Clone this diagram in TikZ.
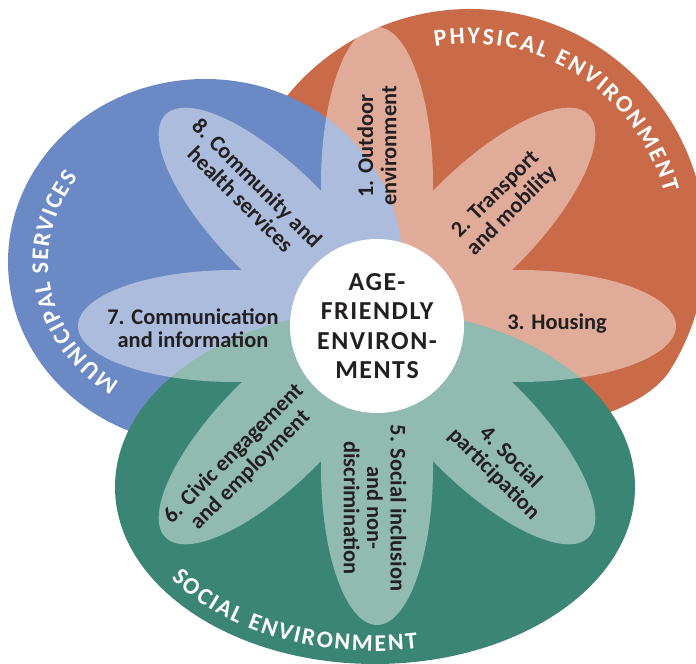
\documentclass[tikz,border=0pt]{standalone}
\usepackage{fontspec}
\setmainfont{Carlito}
\newfontfamily\hubfont[LetterSpace=6]{Carlito}
\usetikzlibrary{decorations.text}
\definecolor{physical}{RGB}{201,106,72}
\definecolor{municipal}{RGB}{107,137,196}
\definecolor{social}{RGB}{59,133,117}
\definecolor{ink}{RGB}{35,31,32}
\newcommand{\ringfont}{\bfseries\fontsize{24}{24}\selectfont}
\tikzset{
    % petals are a thin white veil laid over the three areas
    petal/.style={fill=white, fill opacity=0.44},
    % white disc in the middle
    hub/.style={
           circle,
           fill=white,
           minimum size=174bp,
           inner sep=0pt,
           text=ink,
           align=center,
           font=\hubfont\bfseries\fontsize{26}{29.5}\selectfont},
    petaltext/.style={
           text=ink,
           align=center,
           inner sep=0pt,
           font=\bfseries\fontsize{22.5}{23.5}\selectfont},
    % white titles running round the edge of each area
    ring/.style={
           decorate,
           decoration={text along path, text align=fit to path, text color=white}},
}
\begin{document}
\begin{tikzpicture}[x=1bp, y=1bp]
\useasboundingbox (0,0) rectangle (696,664);
% the three areas
\fill[physical] (670.14,293.94) arc[start angle=-32, end angle=180, radius=236]
    -- (300,264) -- (450,224) .. controls (580,230) and (649,260) .. (670.14,293.94) -- cycle;
\fill[municipal] (205,402) ellipse[x radius=197, y radius=183];
\fill[social] (375,177) ellipse[x radius=260, y radius=177];
% eight petals
\fill[petal] \foreach \a in {0,45,...,315} {{[shift={(377,338)}, rotate=\a] (142,0) ellipse[x radius=157, y radius=56]}};
\node[hub] (hub) at (377,338) {AGE-\\FRIENDLY\\ENVIRON-\\MENTS};
\node[petaltext, rotate=90]  (outdoor)       at (377,518) {1. Outdoor\\environment};
\node[petaltext, rotate=45]  (transport)     at (504,461) {2. Transport\\and mobility};
\node[petaltext]             (housing)       at (557,340) {3. Housing};
\node[petaltext, rotate=-45] (participation) at (502,198) {4. Social\\participation};
\node[petaltext, rotate=-90] (inclusion)     at (375,156) {5. Social inclusion\\and non-\\discrimination};
\node[petaltext, rotate=45]  (civic)         at (242,202) {6. Civic engagement\\and employment};
\node[petaltext]             (communication) at (193,336) {7. Communication\\and information};
\node[petaltext, rotate=-45] (community)     at (249,473) {8. Community and\\health services};
% titles
\path[ring, decoration={text={|\ringfont|PHYSICAL ENVIRONMENT}}]
    (470,419) ++(100:201) arc[start angle=100, end angle=15, radius=201];
\path[ring, decoration={text={|\ringfont|MUNICIPAL SERVICES}}]
    (205,402) ++(237:157 and 143) arc[start angle=237, end angle=144, x radius=157, y radius=143];
\path[ring, decoration={text={|\ringfont|SOCIAL ENVIRONMENT}}]
    (375,177) ++(214:246 and 164) arc[start angle=214, end angle=280, x radius=246, y radius=164];
\end{tikzpicture}
\end{document}
